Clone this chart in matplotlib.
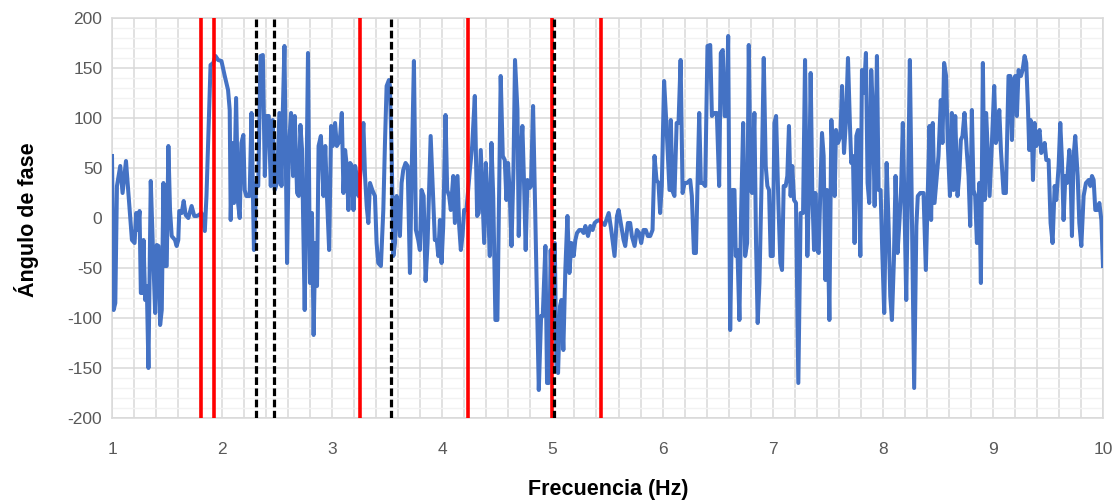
import matplotlib
matplotlib.use("Agg")
import matplotlib.pyplot as plt
from matplotlib.ticker import MultipleLocator

# Phase angle (frequency in Hz, phase in degrees)
freq = [
    1.000, 1.015, 1.030, 1.045, 1.075, 1.096, 1.127, 1.151, 1.181, 1.205,
    1.220, 1.235, 1.250, 1.262, 1.280, 1.286, 1.301, 1.316, 1.331, 1.352,
    1.370, 1.392, 1.407, 1.422, 1.437, 1.452, 1.467, 1.482, 1.497, 1.512,
    1.527, 1.542, 1.572, 1.587, 1.602, 1.611, 1.633, 1.651, 1.669, 1.693,
    1.723, 1.747, 1.768, 1.789, 1.813, 1.843, 1.858, 1.873, 1.895, 1.919,
    1.940, 1.964, 1.994, 2.024, 2.054, 2.069, 2.078, 2.093, 2.108, 2.127,
    2.145, 2.160, 2.175, 2.193, 2.205, 2.220, 2.250,
    2.267, 2.289, 2.310, 2.328, 2.349, 2.370, 2.388, 2.403, 2.424, 2.442,
    2.460, 2.478, 2.499, 2.520, 2.539, 2.551, 2.566, 2.590, 2.605, 2.626,
    2.644, 2.660, 2.681, 2.696, 2.711, 2.726, 2.735, 2.750, 2.765, 2.780,
    2.798, 2.816, 2.831, 2.846, 2.862, 2.876, 2.897, 2.921, 2.937, 2.952,
    2.972, 2.990, 3.005, 3.026, 3.042, 3.057, 3.072, 3.087, 3.102, 3.117,
    3.132, 3.147, 3.163, 3.178, 3.193, 3.208, 3.223, 3.238, 3.262, 3.283,
    3.298, 3.313, 3.328, 3.343, 3.364, 3.388, 3.403, 3.418, 3.442, 3.464,
    3.479, 3.494, 3.515,
    3.524, 3.540, 3.555, 3.570, 3.585, 3.600, 3.615, 3.630, 3.645, 3.666,
    3.685, 3.706, 3.721, 3.742, 3.760, 3.781, 3.796, 3.811, 3.830, 3.848,
    3.866, 3.894, 3.911, 3.932, 3.950, 3.963, 3.978, 3.993, 4.008, 4.029,
    4.044, 4.062, 4.077, 4.099, 4.114, 4.138, 4.153, 4.168, 4.183, 4.198,
    4.219, 4.250, 4.271, 4.295, 4.316, 4.331, 4.349, 4.364, 4.380, 4.395,
    4.416, 4.431, 4.446, 4.462, 4.482, 4.500, 4.530, 4.549, 4.567, 4.582,
    4.597, 4.613, 4.628, 4.646, 4.660, 4.682, 4.694, 4.709, 4.727, 4.742,
    4.757, 4.773, 4.793, 4.805, 4.824,
    4.876, 4.897, 4.912, 4.936, 4.951, 4.966, 4.984, 5.002, 5.021, 5.036,
    5.051, 5.069, 5.081, 5.099, 5.117, 5.136, 5.154, 5.172, 5.193, 5.208,
    5.223, 5.244, 5.262, 5.283, 5.299, 5.323, 5.344, 5.365, 5.383, 5.404,
    5.429, 5.450, 5.474, 5.511, 5.534, 5.564, 5.586, 5.601, 5.625, 5.646,
    5.661, 5.685, 5.706, 5.721, 5.746, 5.767, 5.788, 5.806, 5.827, 5.848,
    5.866, 5.888, 5.909, 5.927, 5.945, 5.963, 5.978, 5.993, 6.014, 6.033,
    6.063,
    6.075, 6.090, 6.108, 6.128, 6.145, 6.164, 6.182, 6.200, 6.221, 6.251,
    6.266, 6.285, 6.303, 6.318, 6.333, 6.348, 6.366, 6.387, 6.408, 6.433,
    6.448, 6.469, 6.493, 6.514, 6.529, 6.547, 6.563, 6.581, 6.596, 6.614,
    6.635, 6.653, 6.665, 6.680, 6.698, 6.713, 6.732, 6.750, 6.768, 6.783,
    6.801, 6.813, 6.834, 6.849, 6.864, 6.880, 6.901, 6.919, 6.937, 6.952,
    6.967, 6.982, 7.001, 7.016, 7.031, 7.052, 7.070, 7.085, 7.100, 7.118,
    7.133, 7.148, 7.163, 7.178, 7.194, 7.212, 7.233, 7.254, 7.276, 7.294,
    7.315, 7.333, 7.345, 7.360,
    7.376, 7.388, 7.406, 7.418, 7.433, 7.448, 7.463, 7.479, 7.494, 7.515,
    7.533, 7.548, 7.563, 7.575, 7.593, 7.615, 7.630, 7.648, 7.666, 7.684,
    7.702, 7.714, 7.729, 7.744, 7.760, 7.775, 7.796, 7.811, 7.829, 7.847,
    7.862, 7.877, 7.895, 7.910, 7.926, 7.947, 7.962, 7.980, 7.995, 8.013,
    8.035, 8.053, 8.068, 8.083, 8.101, 8.116, 8.134, 8.152, 8.167, 8.182,
    8.198, 8.213, 8.228, 8.246, 8.264, 8.285, 8.305, 8.318, 8.340, 8.370,
    8.391, 8.409, 8.424, 8.439, 8.454, 8.470, 8.491, 8.506, 8.527, 8.542,
    8.557, 8.575, 8.590, 8.610, 8.627,
    8.642, 8.658, 8.679, 8.694, 8.709, 8.724, 8.742, 8.764, 8.779, 8.794,
    8.809, 8.824, 8.839, 8.855, 8.876, 8.891, 8.909, 8.924, 8.939, 8.955,
    8.970, 8.991, 9.012, 9.027, 9.042, 9.058, 9.073, 9.097, 9.118, 9.142,
    9.158, 9.173, 9.188, 9.203, 9.218, 9.233, 9.255, 9.270, 9.288, 9.303,
    9.318, 9.330, 9.342, 9.355, 9.364, 9.379, 9.394, 9.409, 9.424, 9.439,
    9.455, 9.470, 9.485, 9.506, 9.524, 9.542, 9.561, 9.576, 9.597, 9.612,
    9.627, 9.642, 9.658, 9.673, 9.694, 9.706, 9.718, 9.733, 9.748, 9.770,
    9.785, 9.803, 9.824, 9.845, 9.870, 9.885, 9.900, 9.915, 9.930, 9.948,
    9.967, 9.985, 10.000,
]
phase = [
    62, -92, -85, 32, 52, 25, 57, 22, -22, -25,
    5, -12, 7, -75, -75, -22, -82, -68, -150, 37,
    -25, -95, -27, -28, -107, -92, 35, -48, -48, 72,
    8, -18, -22, -28, -22, 7, 5, 17, 3, 0,
    12, 2, 2, 3, 5, -13, 22, 75, 153, 155,
    162, 158, 157, 142, 128, 108, -2, 75, 15, 120,
    15, 0, 75, 83, 28, 22, 22,
    105, -32, 35, 32, 162, 163, 42, 102, 102, 32,
    98, 28, 35, 105, 32, 105, 172, -45, 68, 105,
    42, 102, 25, 22, 93, 68, 5, -92, 22, 165,
    -65, 5, -117, -25, -68, 72, 82, 22, 72, 22,
    -32, 92, 72, 95, 72, 75, 82, 105, 25, 68,
    52, 8, 55, 52, 8, 52, 42, 22, 52, 95,
    42, 12, -5, 35, 28, 22, -25, -45, -48, 8,
    75, 132, 138,
    132, 62, -38, -25, 22, 8, -18, 35, 48, 55,
    52, -55, 42, 157, -12, -22, -32, 28, 22, -63,
    -25, 82, 35, -22, -22, -38, -2, -45, -8, 103,
    28, 22, 8, 42, -5, 42, -8, -32, -18, 8,
    8, 48, 72, 122, 2, 5, 68, 22, -25, 55,
    8, -38, 75, 22, -102, -102, 142, 62, 58, 18,
    55, 22, -28, 48, 158, 108, -18, 58, 92, 35,
    -32, 38, 30, 32, 112,
    -172, -98, -98, -28, -165, -165, -32, -112, -25, -148,
    -155, -88, -82, -132, -52, 2, -55, -25, -38, -22,
    -15, -12, -12, -15, -8, -18, -8, -12, -5, -3,
    -2, -5, -7, 5, -12, -38, 2, 8, -8, -22,
    -28, -5, -5, -18, -28, -12, -15, -25, -12, -12,
    -18, -18, -12, 62, 38, 35, 5, 32, 137, 98,
    28,
    98, 27, 22, 95, 95, 158, 25, 35, 35, 38,
    22, -35, -35, 35, 105, 35, 35, 32, 172, 173,
    102, 105, 105, 32, 165, 168, 102, 102, 182, -112,
    28, 28, -38, -32, -102, 2, 95, -38, -25, 173,
    28, 25, 105, -25, -105, -65, 45, 160, 52, 32,
    28, -38, -38, 95, 102, 15, -45, -52, 32, 32,
    42, 92, 22, 52, 18, 15, -165, 5, 5, 158,
    -38, 42, 145, 25,
    -32, 25, -32, -35, 28, 85, 62, -62, 28, -102,
    98, 55, 22, 88, 75, 82, 132, 65, 98, 160,
    92, 55, 62, -25, 82, 88, -38, 148, 125, 165,
    35, 15, 148, 108, 12, 162, 28, 28, -32, -95,
    55, -8, -78, -102, -42, 42, -35, -2, 32, 95,
    8, -82, 22, 158, 8, -170, -8, 22, 25, 25,
    -52, 25, 92, -2, 95, 15, 42, 62, 118, 75,
    155, 142, 75, 22, 105,
    28, 102, 22, 42, 78, 82, 105, 65, 42, -8,
    108, 28, 22, -25, 35, -65, 155, 18, 105, 62,
    22, 75, 132, 75, 82, 108, 68, 25, 25, 142,
    142, 78, 138, 142, 102, 148, 142, 148, 162, 155,
    112, 68, 98, 82, 38, 95, 72, 82, 88, 65,
    68, 75, 58, 58, -5, -25, 32, 18, 52, 95,
    58, -2, 42, 35, 68, 42, -18, 62, 82, 42,
    -5, -28, 22, 35, 38, 32, 42, 38, 8, 8,
    15, -2, -48,
]

# Marker frequencies
red_lines = [1.81, 1.93, 3.25, 4.23, 4.995, 5.445]
black_lines = [2.305, 2.47, 3.53, 5.015]

plt.rcParams['font.family'] = ['Liberation Sans', 'DejaVu Sans']
plt.rcParams['axes.unicode_minus'] = False

fig = plt.figure(figsize=(11.19, 5.04), dpi=100)
ax = fig.add_axes([112 / 1119, 1 - 418 / 504, (1103 - 112) / 1119, 400 / 504])

ax.plot(freq, phase, color='#4472C4', lw=2.9, solid_joinstyle='round', zorder=3)

for x in red_lines:
    ax.axvline(x, color='#FF0000', lw=2.6, zorder=4)
for x in black_lines:
    ax.axvline(x, color='black', lw=2.3, dashes=(2.4, 1.1), zorder=5)

ax.set_xlim(1, 10)
ax.set_ylim(-200, 200)
ax.xaxis.set_major_locator(MultipleLocator(1))
ax.xaxis.set_minor_locator(MultipleLocator(0.2))
ax.yaxis.set_major_locator(MultipleLocator(50))
ax.yaxis.set_minor_locator(MultipleLocator(10))

ax.grid(which='major', color='#D9D9D9', lw=1.1, zorder=0)
ax.grid(which='minor', axis='x', color='#D9D9D9', lw=1.1, zorder=0)
ax.grid(which='minor', axis='y', color='#F2F2F2', lw=1.0, zorder=0)
ax.set_axisbelow(True)

ax.tick_params(which='both', length=0)
ax.tick_params(axis='x', pad=17, labelsize=12.5, labelcolor='#595959')
ax.tick_params(axis='y', pad=7, labelsize=12.5, labelcolor='#595959')

for s in ax.spines.values():
    s.set_color('#D9D9D9')
    s.set_linewidth(1.1)

fig.text(608 / 1119, 1 - 490 / 504, 'Frecuencia (Hz)', ha='center', va='center',
         fontsize=15.5, fontweight='bold', color='black')
fig.text(27 / 1119, 1 - 220 / 504, 'Ángulo de fase', ha='center', va='center',
         rotation=90, fontsize=15.5, fontweight='bold', color='black')

fig.savefig('out.png', dpi=100)
